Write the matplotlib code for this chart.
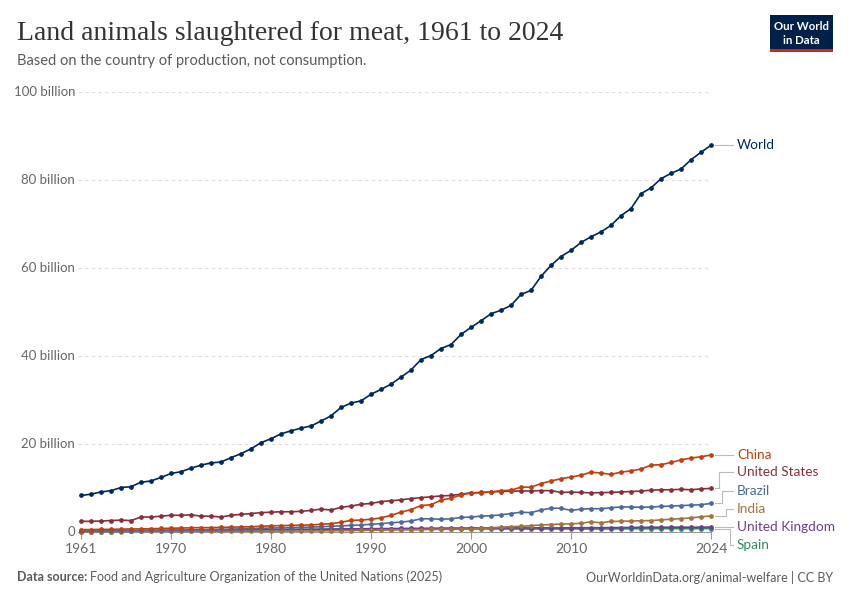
import numpy as np
import matplotlib
matplotlib.use("Agg")
import matplotlib.pyplot as plt
from matplotlib.patches import Rectangle

# years 1961..2024, values in billions of animals
years = list(range(1961, 2025))

world = [8.3, 8.6, 9.1, 9.4, 10.1, 10.3, 11.3, 11.6, 12.4, 13.3,
         13.7, 14.5, 15.2, 15.7, 15.9, 16.9, 17.8, 18.9, 20.3, 21.2,
         22.3, 23.0, 23.6, 24.1, 25.2, 26.4, 28.3, 29.3, 29.8, 31.3,
         32.4, 33.6, 35.2, 36.8, 39.2, 40.1, 41.7, 42.6, 44.9, 46.5,
         48.0, 49.6, 50.4, 51.5, 54.0, 54.9, 58.1, 60.6, 62.6, 64.0,
         65.8, 67.1, 68.2, 69.7, 71.9, 73.5, 76.9, 78.2, 80.3, 81.5,
         82.5, 84.6, 86.3, 87.9]

china = [0.55, 0.55, 0.6, 0.6, 0.65, 0.7, 0.7, 0.75, 0.8, 0.85,
         0.9, 0.95, 1.0, 1.0, 1.05, 1.1, 1.15, 1.2, 1.3, 1.4,
         1.45, 1.5, 1.55, 1.6, 1.75, 1.9, 2.2, 2.65, 2.7, 2.9,
         3.2, 3.8, 4.5, 5.1, 6.0, 6.2, 7.25, 7.7, 8.4, 8.9,
         8.9, 9.1, 9.4, 9.5, 10.2, 10.2, 11.0, 11.6, 12.1, 12.5,
         12.9, 13.6, 13.4, 13.1, 13.6, 13.9, 14.3, 15.2, 15.3, 15.8,
         16.4, 16.8, 17.1, 17.5]

united_states = [2.43, 2.43, 2.5, 2.6, 2.7, 2.6, 3.4, 3.4, 3.6, 3.8,
                 3.8, 3.9, 3.6, 3.6, 3.4, 3.8, 4.0, 4.2, 4.4, 4.5,
                 4.6, 4.6, 4.7, 4.9, 5.2, 5.0, 5.6, 5.9, 6.3, 6.5,
                 6.9, 7.1, 7.3, 7.6, 7.8, 8.0, 8.2, 8.3, 8.6, 8.9,
                 9.0, 9.1, 9.2, 9.3, 9.3, 9.35, 9.4, 9.4, 9.0, 9.05,
                 9.0, 8.9, 8.95, 9.0, 9.1, 9.2, 9.3, 9.5, 9.6, 9.6,
                 9.7, 9.6, 9.8, 9.9]

brazil = [0.25, 0.26, 0.28, 0.3, 0.32, 0.34, 0.36, 0.38, 0.4, 0.43,
          0.46, 0.5, 0.54, 0.58, 0.62, 0.66, 0.72, 0.78, 0.84, 0.9,
          0.95, 1.0, 1.05, 1.1, 1.2, 1.3, 1.4, 1.5, 1.6, 1.75,
          1.9, 2.1, 2.25, 2.5, 3.0, 3.0, 2.9, 3.0, 3.3, 3.4,
          3.6, 3.7, 3.9, 4.2, 4.5, 4.4, 5.0, 5.4, 5.4, 4.9,
          5.2, 5.3, 5.3, 5.5, 5.7, 5.7, 5.6, 5.7, 5.8, 5.9,
          6.0, 6.1, 6.2, 6.5]

india = [0.1, 0.1, 0.1, 0.11, 0.11, 0.12, 0.12, 0.13, 0.13, 0.14,
         0.14, 0.15, 0.15, 0.16, 0.16, 0.17, 0.17, 0.18, 0.19, 0.2,
         0.21, 0.22, 0.23, 0.24, 0.26, 0.28, 0.3, 0.33, 0.36, 0.4,
         0.43, 0.47, 0.5, 0.52, 0.55, 0.58, 0.6, 0.62, 0.66, 0.7,
         0.8, 0.95, 1.1, 1.2, 1.3, 1.45, 1.6, 1.7, 1.8, 1.85,
         2.0, 2.3, 2.1, 2.4, 2.45, 2.5, 2.55, 2.6, 2.75, 2.9,
         3.05, 3.2, 3.45, 3.65]

united_kingdom = [0.2, 0.22, 0.24, 0.26, 0.28, 0.3, 0.33, 0.36, 0.38, 0.4,
                  0.42, 0.44, 0.46, 0.47, 0.45, 0.48, 0.5, 0.52, 0.55, 0.57,
                  0.58, 0.6, 0.62, 0.63, 0.65, 0.68, 0.7, 0.72, 0.73, 0.75,
                  0.77, 0.79, 0.8, 0.82, 0.84, 0.86, 0.88, 0.9, 0.9, 0.92,
                  0.92, 0.93, 0.93, 0.94, 0.94, 0.94, 0.95, 0.93, 0.93, 0.95,
                  0.96, 0.97, 0.98, 1.0, 1.02, 1.04, 1.06, 1.07, 1.08, 1.1,
                  1.1, 1.08, 1.1, 1.12]

spain = [0.05, 0.06, 0.08, 0.1, 0.12, 0.15, 0.18, 0.21, 0.24, 0.27,
         0.3, 0.33, 0.36, 0.39, 0.42, 0.45, 0.47, 0.49, 0.5, 0.52,
         0.52, 0.53, 0.53, 0.54, 0.54, 0.55, 0.56, 0.57, 0.58, 0.58,
         0.59, 0.6, 0.6, 0.61, 0.62, 0.63, 0.65, 0.67, 0.7, 0.7,
         0.7, 0.7, 0.7, 0.69, 0.69, 0.68, 0.7, 0.7, 0.69, 0.7,
         0.7, 0.69, 0.7, 0.71, 0.72, 0.73, 0.74, 0.75, 0.76, 0.77,
         0.76, 0.75, 0.77, 0.78]

names = ["World", "China", "United States", "Brazil", "India", "United Kingdom", "Spain"]
series = [world, china, united_states, brazil, india, united_kingdom, spain]
colors = ["#00295b", "#c0400f", "#883039", "#4c6a9c", "#a2733a", "#6d3e91", "#2f8a62"]

x_ticks = [1961, 1970, 1980, 1990, 2000, 2010, 2024]
y_ticks = [0, 20, 40, 60, 80, 100]
y_tick_labels = ["0", "20 billion", "40 billion", "60 billion", "80 billion", "100 billion"]

# label layout (pixel rows of end labels, elbow x of connectors)
label_rows = [145, 455, 472, 491, 509, 527, 545]
elbow_px = [None, None, 719, 722, 726, 728, 730]

plt.rcParams['font.family'] = ['Lato', 'DejaVu Sans']

W, H = 850, 600
fig = plt.figure(figsize=(8.5, 6), dpi=100)
fig.patch.set_facecolor("white")

ax_l, ax_r, ax_t, ax_b = 78, 711, 92, 532
ax = fig.add_axes([ax_l / W, 1 - ax_b / H, (ax_r - ax_l) / W, (ax_b - ax_t) / H])
ax.set_xlim(1960.7, 2024.0)
ax.set_ylim(0, 100)

for name, vals, c in zip(names[::-1], series[::-1], colors[::-1]):
    ax.plot(years, vals, color=c, lw=1.2, marker="o", ms=2.4, clip_on=False, zorder=3)

ax.set_yticks(y_ticks)
ax.set_yticklabels(y_tick_labels)
ax.set_xticks(x_ticks)
ax.tick_params(axis="y", length=0, pad=2, labelsize=9.5, labelcolor="#666666")
ax.tick_params(axis="x", length=5, width=0.8, color="#999999", pad=3,
               labelsize=10, labelcolor="#666666")
for lab in ax.get_yticklabels():
    lab.set_verticalalignment("center")

for v in y_ticks[1:]:
    ax.axhline(v, color="#dddddd", lw=0.8, dashes=(3, 3), zorder=1)

for s in ["top", "right", "left"]:
    ax.spines[s].set_visible(False)
ax.spines["bottom"].set_color("#999999")
ax.spines["bottom"].set_linewidth(0.8)

# end labels with connectors, drawn in figure pixel space
for i, (name, vals, c) in enumerate(zip(names, series, colors)):
    end_disp = ax.transData.transform((years[-1], vals[-1]))
    ex = end_disp[0]
    ey = H - end_disp[1]
    ly = label_rows[i]
    if elbow_px[i] is None:
        xs = [ex + 4, 733]
        ys = [ey, ey]
        ly = ey
    else:
        xs = [ex + 4, elbow_px[i], elbow_px[i], 733]
        ys = [ey, ey, ly, ly]
    fx = [px / W for px in xs]
    fy = [1 - py / H for py in ys]
    fig.add_artist(plt.Line2D(fx, fy, color="#bbbbbb", lw=0.8))
    fig.text(737 / W, 1 - ly / H, name, color=c, fontsize=9.8, va="center", ha="left")

# title and subtitle
fig.text(17 / W, 1 - 33 / H, "Land animals slaughtered for meat, 1961 to 2024",
         fontsize=20, family=["Liberation Serif", "DejaVu Serif"], color="#333333",
         va="center", ha="left")
fig.text(17 / W, 1 - 61 / H, "Based on the country of production, not consumption.",
         fontsize=10.5, color="#5b5b5b", va="center", ha="left")

# logo
fig.add_artist(Rectangle((770 / W, 1 - 52 / H), 63 / W, 37 / H, transform=fig.transFigure,
                         facecolor="#002147", edgecolor="none"))
fig.add_artist(Rectangle((770 / W, 1 - 52 / H), 63 / W, 3 / H, transform=fig.transFigure,
                         facecolor="#ce261e", edgecolor="none"))
fig.text(801.5 / W, 1 - 27 / H, "Our World", color="white", fontsize=8.2,
         ha="center", va="center", weight="bold")
fig.text(801.5 / W, 1 - 40 / H, "in Data", color="white", fontsize=8.2,
         ha="center", va="center", weight="bold")

# footer
t = fig.text(17 / W, 1 - 577 / H, "Data source:", fontsize=9, color="#5b5b5b",
             weight="bold", va="center", ha="left")
fig.canvas.draw()
bb = t.get_window_extent()
fig.text((bb.x1 + 3) / W, 1 - 577 / H,
         "Food and Agriculture Organization of the United Nations (2025)",
         fontsize=9, color="#5b5b5b", va="center", ha="left")
fig.text(833 / W, 1 - 577 / H, "OurWorldinData.org/animal-welfare | CC BY",
         fontsize=9, color="#5b5b5b", va="center", ha="right")

fig.savefig("out.png", dpi=100, facecolor="white")
